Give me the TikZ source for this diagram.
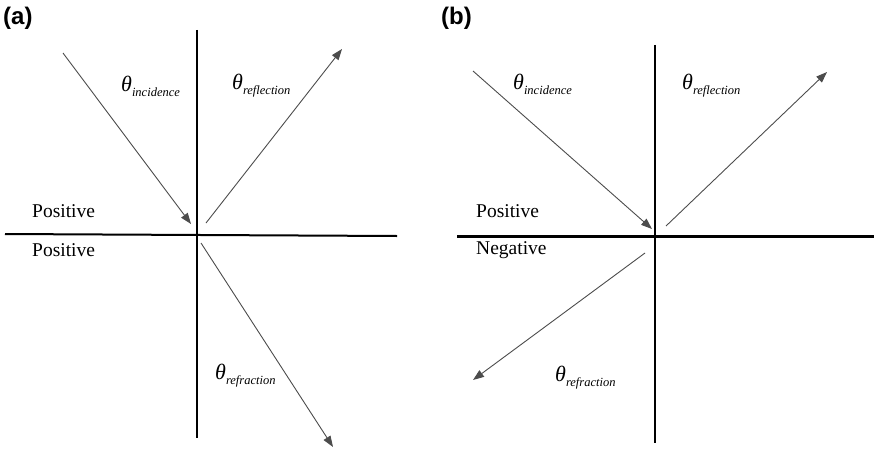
\documentclass[tikz,border=0pt]{standalone}
\usepackage{fontspec}
\setmainfont{Liberation Serif}
\newfontfamily\panelfont{Liberation Sans}
\usetikzlibrary{arrows.meta,positioning}
\tikzset{
  axis/.style={draw=black, line width=2pt},
  heavyaxis/.style={draw=black, line width=3pt},
  ray/.style={-{Triangle[length=11pt,width=8pt]}, line width=0.9pt, draw=black!70},
  side/.style={font=\fontsize{19.5}{20}\selectfont, inner sep=0pt, anchor=west},
  anglbl/.style={inner sep=0pt, anchor=west},
  panel/.style={font=\panelfont\bfseries\fontsize{24}{24}\selectfont, inner sep=0pt, anchor=north west}
}
\newcommand{\anglabel}[1]{{\fontsize{22}{22}\selectfont\itshape θ}\raisebox{-5pt}{\fontsize{12.5}{13}\selectfont\itshape #1}}

\begin{document}
\begin{tikzpicture}[x=1pt, y=-1pt]
  \useasboundingbox (0,0) rectangle (874,452);

  \node[panel] (pa) at (3,7) {(a)};
  \coordinate (aTop) at (197,30);
  \coordinate (aBot) at (197,438);
  \coordinate (aLeft) at (5,234);
  \coordinate (aRight) at (397,236);
  \coordinate (aIncS) at (63,53);
  \coordinate (aIncE) at (191,224);
  \coordinate (aRefS) at (206,223);
  \coordinate (aRefE) at (342,49);
  \coordinate (aTraS) at (201,243);
  \coordinate (aTraE) at (333,447);
  \draw[axis] (aTop) -- (aBot);
  \draw[axis] (aLeft) -- (aRight);
  \draw[ray] (aIncS) -- (aIncE);
  \draw[ray] (aRefS) -- (aRefE);
  \draw[ray] (aTraS) -- (aTraE);
  \node[anglbl] (aInc) at (121,86) {\anglabel{incidence}};
  \node[anglbl] (aRef) at (232,86) {\anglabel{reflection}};
  \node[anglbl] (aTra) at (215,376) {\anglabel{refraction}};
  \node[side] (aUp) at (32,211) {Positive};
  \node[side] (aDown) at (32,250) {Positive};

  \node[panel] (pb) at (441,7) {(b)};
  \coordinate (bTop) at (655,45);
  \coordinate (bBot) at (655,443);
  \coordinate (bLeft) at (457,236);
  \coordinate (bRight) at (874,236);
  \coordinate (bIncS) at (473,71);
  \coordinate (bIncE) at (652,229);
  \coordinate (bRefS) at (666,226);
  \coordinate (bRefE) at (827,72);
  \coordinate (bTraS) at (645,253);
  \coordinate (bTraE) at (473,380);
  \draw[axis] (bTop) -- (bBot);
  \draw[heavyaxis] (bLeft) -- (bRight);
  \draw[ray] (bIncS) -- (bIncE);
  \draw[ray] (bRefS) -- (bRefE);
  \draw[ray] (bTraS) -- (bTraE);
  \node[anglbl] (bInc) at (513,84) {\anglabel{incidence}};
  \node[anglbl] (bRef) at (682,86) {\anglabel{reflection}};
  \node[anglbl] (bTra) at (555,378) {\anglabel{refraction}};
  \node[side] (bUp) at (476,211) {Positive};
  \node[side] (bDown) at (476,250) {Negative};
\end{tikzpicture}
\end{document}
